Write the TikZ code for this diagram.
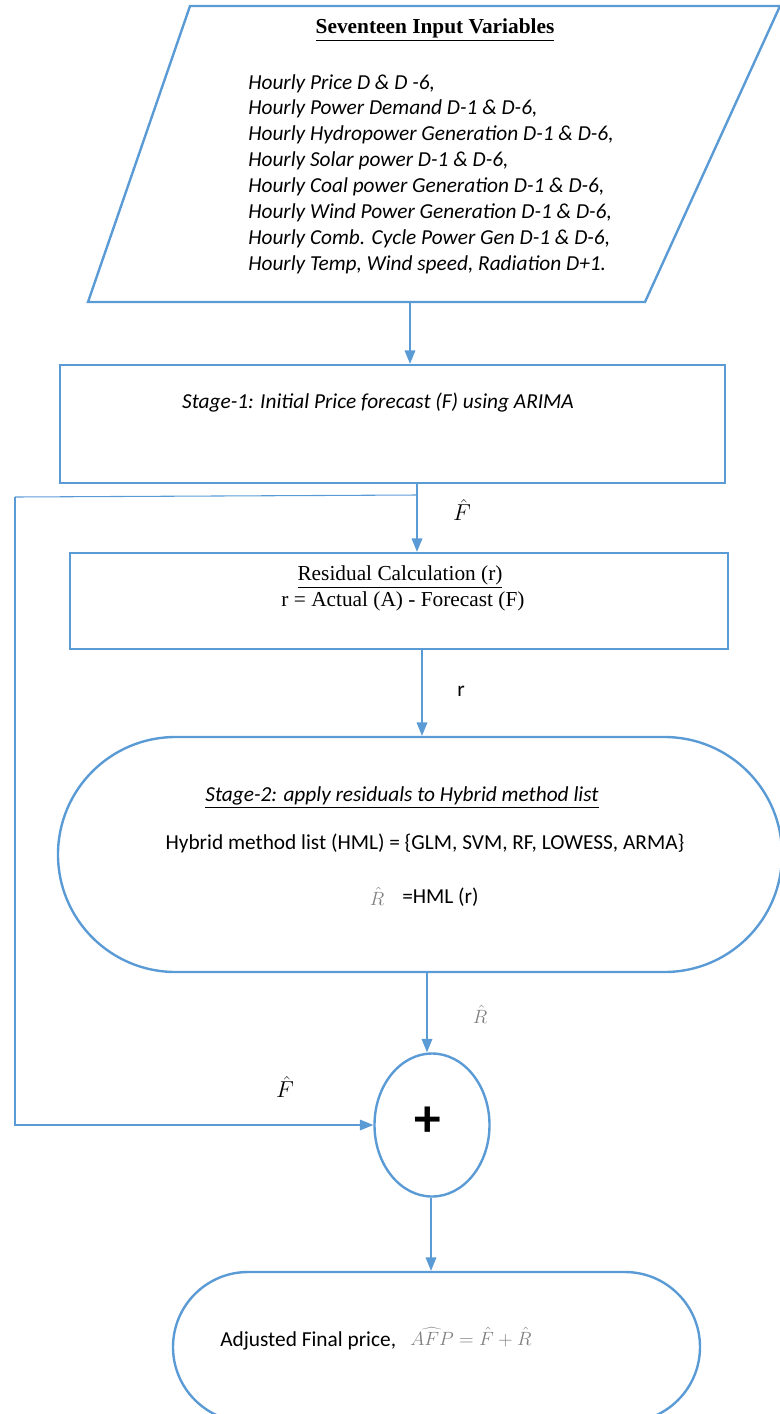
\documentclass[tikz,border=0pt]{standalone}
\usepackage{fontspec}
\setmainfont{Liberation Serif}
\setsansfont{Carlito}
\usetikzlibrary{arrows.meta,calc,positioning,shapes.geometric,shapes.misc}
\definecolor{flowblue}{RGB}{91,155,213}
\tikzset{
    box/.style = {
        draw = flowblue,
        line width = 1.8pt,
        rectangle,
        inner sep = 0pt,
        },
    pill/.style = {
        draw = flowblue,
        line width = 1.8pt,
        rounded rectangle,
        inner sep = 0pt,
        },
    sumnode/.style = {
        draw = flowblue,
        line width = 1.8pt,
        ellipse,
        inner sep = 0pt,
        },
    arr/.style = {
        draw = flowblue,
        line width = 0.8pt,
        -{Triangle[length=10pt,width=8pt]},
        },
    link/.style = {
        draw = flowblue,
        line width = 0.8pt,
        },
    itext/.style = {
        font = \sffamily\itshape\fontsize{16}{19.4}\selectfont,
        inner sep = 0pt,
        },
    stext/.style = {
        font = \sffamily\fontsize{16}{19.4}\selectfont,
        inner sep = 0pt,
        },
    rtext/.style = {
        font = \fontsize{16}{18}\selectfont,
        inner sep = 0pt,
        },
    mlabel/.style = {
        font = \fontsize{16}{18}\selectfont,
        inner sep = 0pt,
        },
}

\begin{document}
\begin{tikzpicture}[x=0.75pt,y=-0.75pt]
    \useasboundingbox (0,0) rectangle (780,1414);
    \clip (0,0) rectangle (780,1414);

    % input parallelogram
    \draw[flowblue, line width=1.8pt] (190,6) -- (780,6) -- (645,302) -- (88,302) -- cycle;
    \coordinate (in-bot) at (410,302);
    \node[rtext, font=\bfseries\fontsize{16}{18}\selectfont] (title) at (435,30) {\underline{Seventeen Input Variables}};
    \node[itext, align=left, anchor=north west] (vars) at (248,74) {%
        Hourly Price D \& D -6,\\
        Hourly Power Demand D-1 \& D-6,\\
        Hourly Hydropower Generation D-1 \& D-6,\\
        Hourly Solar power D-1 \& D-6,\\
        Hourly Coal power Generation D-1 \& D-6,\\
        Hourly Wind Power Generation D-1 \& D-6,\\
        Hourly Comb. Cycle Power Gen D-1 \& D-6,\\
        Hourly Temp, Wind speed, Radiation D+1.};

    % boxes
    \node[box, minimum width=498.75pt, minimum height=88.5pt] (stageone) at (392.5,424) {};
    \node[itext] (stageonetext) at (378,403) {Stage-1: Initial Price forecast (F) using ARIMA};

    \node[box, minimum width=493.5pt, minimum height=72pt] (resid) at (399,601) {};
    \node[rtext] (residhead) at (400,577) {\underline{Residual Calculation (r)}};
    \node[rtext] (residtext) at (403,601) {r = Actual (A) - Forecast (F)};

    \node[pill, minimum width=543pt, minimum height=176.25pt] (hybrid) at (420,854.5) {};
    \node[itext] (hybridhead) at (402,797) {\underline{Stage-2: apply residuals to Hybrid method list}};
    \node[stext] (hybridlist) at (425,843) {Hybrid method list (HML) = \{GLM, SVM, RF, LOWESS, ARMA\}};
    \node[mlabel, text=gray, font=\fontsize{15}{17}\selectfont] (hybridrhat) at (377,896) {$\hat{R}$};
    \node[stext, anchor=west] (hybridres) at (402,897) {=HML (r)};

    \node[sumnode, minimum width=86.25pt, minimum height=107.25pt] (plus) at (432,1125) {};
    \node[font=\sffamily\bfseries\fontsize{40}{40}\selectfont, inner sep=0pt] (plussign) at (428,1122) {+};

    \node[pill, minimum width=395.25pt, minimum height=112.5pt] (final) at (436.5,1347) {};
    \node[stext, anchor=west] (finaltext) at (220,1341) {Adjusted Final price,};
    \node[mlabel, text=gray, anchor=west, font=\fontsize{14}{16}\selectfont] (finalmath) at (410,1337) {$\widehat{AFP}=\hat{F}+\hat{R}$};

    % connectors
    \coordinate (split) at (417,495);
    \coordinate (fbcorner) at (15,497);
    \draw[arr] (in-bot) -- (in-bot |- stageone.north);
    \draw[arr] (stageone.south -| split) -- (split |- resid.north);
    \draw[link] (split) -- (fbcorner);
    \draw[arr] (fbcorner) -- (fbcorner |- plus.west) -- (plus.west);
    \draw[arr] (resid.south -| 422,0) -- (hybrid.north -| 422,0);
    \draw[arr] (hybrid.south -| 427,0) -- (plus.north -| 427,0);
    \draw[arr] (plus.south -| 431,0) -- (final.north -| 431,0);

    % labels
    \node[mlabel] (fhatone) at (462,510) {$\hat{F}$};
    \node[stext] (rlabel) at (461,691) {r};
    \node[mlabel, text=gray, font=\fontsize{15}{17}\selectfont] (rhat) at (480,1014) {$\hat{R}$};
    \node[mlabel] (fhattwo) at (285,1087) {$\hat{F}$};
\end{tikzpicture}
\end{document}
